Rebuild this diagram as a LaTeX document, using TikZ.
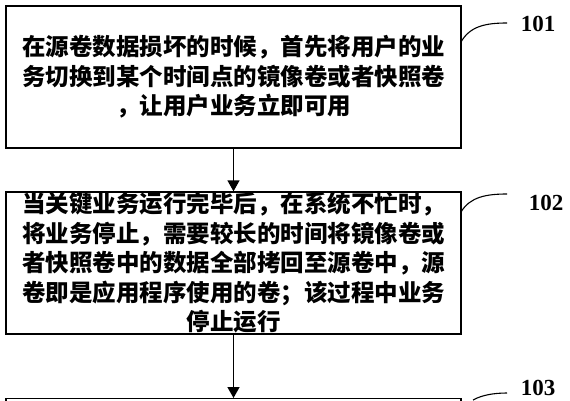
\documentclass[tikz,border=0pt]{standalone}
\usepackage{fontspec}
\setmainfont{Liberation Serif}
\newfontfamily\cjk{Noto Sans CJK SC}
\usetikzlibrary{arrows.meta}
\tikzset{
  stepbox/.style={draw, line width=1.3pt, minimum width=455pt, minimum height=142pt,
    inner sep=0pt, align=center, text width=440pt,
    font=\cjk\bfseries\fontsize{23.5}{29.5}\selectfont},
  flow/.style={line width=1.3pt, -{Triangle[width=12pt,length=11pt]}},
  leader/.style={line width=1.1pt},
  numlabel/.style={font=\bfseries\fontsize{23}{23}\selectfont, inner sep=0pt}
}
\begin{document}
\begin{tikzpicture}[x=1pt,y=-1pt]
\clip (0,0) rectangle (570,400);
\node[stepbox] (a) at (233.5,77) {在源卷数据损坏的时候，首先将用户的业\\务切换到某个时间点的镜像卷或者快照卷\\，让用户业务立即可用};
\node[stepbox] (b) at (233.5,263) {当关键业务运行完毕后，在系统不忙时，\\将业务停止，需要较长的时间将镜像卷或\\者快照卷中的数据全部拷回至源卷中，源\\卷即是应用程序使用的卷；该过程中业务\\停止运行};
\node[stepbox, anchor=north] (c) at (233.5,398) {};
\draw[flow] (a) -- (b);
\draw[flow] (b) -- (c);
\node[numlabel] (l1) at (538,24) {101};
\node[numlabel] (l2) at (546,203) {102};
\node[numlabel] (l3) at (538,388) {103};
\coordinate (s1) at (461,42);
\coordinate (e1) at (507,23);
\coordinate (s2) at (461,212);
\coordinate (e2) at (507,194);
\coordinate (s3) at (473,400);
\coordinate (e3) at (507,393);
\draw[leader] (s1) .. controls (470,26) and (486,23) .. (e1);
\draw[leader] (s2) .. controls (470,197) and (486,194) .. (e2);
\draw[leader] (s3) .. controls (482,395) and (494,393) .. (e3);
\end{tikzpicture}
\end{document}
